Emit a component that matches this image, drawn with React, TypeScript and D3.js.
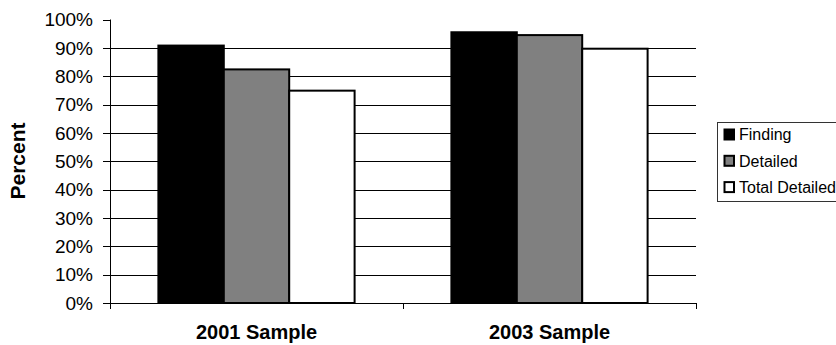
import React from "react";
import * as d3 from "d3";

const categories = ["2001 Sample", "2003 Sample"];
const series = ["Finding", "Detailed", "Total Detailed"];
const finding = [0.908, 0.955];
const detailed = [0.824, 0.945];
const totalDetailed = [0.749, 0.897];
const yTicks = [0, 0.1, 0.2, 0.3, 0.4, 0.5, 0.6, 0.7, 0.8, 0.9, 1];

const fills: Record<string, string> = {
  Finding: "#000000",
  Detailed: "#808080",
  "Total Detailed": "#ffffff",
};

const font = "Arial, 'Liberation Sans', Helvetica, sans-serif";

const App = () => {
  const width = 836;
  const height = 345;
  const plot = { left: 110, right: 696, top: 19.5, bottom: 303 };

  const y = d3.scaleLinear().domain([0, 1]).range([plot.bottom, plot.top]);
  const x0 = d3
    .scaleBand()
    .domain(categories)
    .range([plot.left, plot.right])
    .padding(0);
  const x1 = d3
    .scaleBand()
    .domain(series)
    .range([0, x0.bandwidth()])
    .paddingInner(0)
    .paddingOuter(0.74);

  const rows = categories.map((c, i) => ({
    category: c,
    values: [
      { key: "Finding", value: finding[i] },
      { key: "Detailed", value: detailed[i] },
      { key: "Total Detailed", value: totalDetailed[i] },
    ],
  }));

  const fmt = d3.format(".0%");
  const xTickPositions = [plot.left, ...categories.map((c) => (x0(c) as number) + x0.bandwidth())];

  return (
    <svg
      width={width}
      height={height}
      style={{ position: "absolute", left: 0, top: 0, background: "#fff", fontFamily: font }}
    >
      {/* gridlines */}
      {yTicks
        .filter((t) => t > 0 && t < 1)
        .map((t) => (
          <line
            key={t}
            x1={plot.left}
            x2={plot.right}
            y1={Math.round(y(t)) + 0.5}
            y2={Math.round(y(t)) + 0.5}
            stroke="#000"
            strokeWidth={1}
          />
        ))}

      {/* bars */}
      {rows.map((r) => (
        <g key={r.category} transform={`translate(${x0(r.category)},0)`}>
          {r.values.map((v) => (
            <rect
              key={v.key}
              x={x1(v.key)}
              y={y(v.value)}
              width={x1.bandwidth()}
              height={y(0) - y(v.value)}
              fill={fills[v.key]}
              stroke="#000"
              strokeWidth={2}
            />
          ))}
        </g>
      ))}

      {/* y axis */}
      <line x1={plot.left + 0.5} x2={plot.left + 0.5} y1={plot.top} y2={plot.bottom + 6} stroke="#000" />
      {yTicks.map((t) => (
        <g key={t}>
          <line
            x1={plot.left - 7}
            x2={plot.left}
            y1={Math.round(y(t)) + 0.5}
            y2={Math.round(y(t)) + 0.5}
            stroke="#000"
          />
          <text
            x={93}
            y={y(t)}
            dy="0.36em"
            textAnchor="end"
            fontSize={19}
            fill="#000"
          >
            {fmt(t)}
          </text>
        </g>
      ))}

      {/* x axis */}
      <line x1={plot.left} x2={plot.right} y1={plot.bottom + 0.5} y2={plot.bottom + 0.5} stroke="#000" />
      {xTickPositions.map((p, i) => (
        <line
          key={i}
          x1={Math.round(p) + 0.5}
          x2={Math.round(p) + 0.5}
          y1={plot.bottom}
          y2={plot.bottom + 6}
          stroke="#000"
        />
      ))}
      {categories.map((c) => (
        <text
          key={c}
          x={(x0(c) as number) + x0.bandwidth() / 2}
          y={339}
          textAnchor="middle"
          fontSize={20}
          fontWeight="bold"
          fill="#000"
        >
          {c}
        </text>
      ))}

      {/* y title */}
      <text
        transform={`translate(25,161) rotate(-90)`}
        textAnchor="middle"
        fontSize={21}
        fontWeight="bold"
        fill="#000"
      >
        Percent
      </text>

      {/* legend */}
      <rect x={717.5} y={122.5} width={140} height={79} fill="#fff" stroke="#333" strokeWidth={1} />
      {series.map((s, i) => (
        <g key={s} transform={`translate(724,${134.5 + i * 26.3})`}>
          <rect x={0.5} y={-5} width={9.5} height={10} fill={fills[s]} stroke="#000" strokeWidth={2} />
          <text x={15} y={0} dy="0.36em" fontSize={16} fill="#000">
            {s}
          </text>
        </g>
      ))}
    </svg>
  );
};

export default App;
